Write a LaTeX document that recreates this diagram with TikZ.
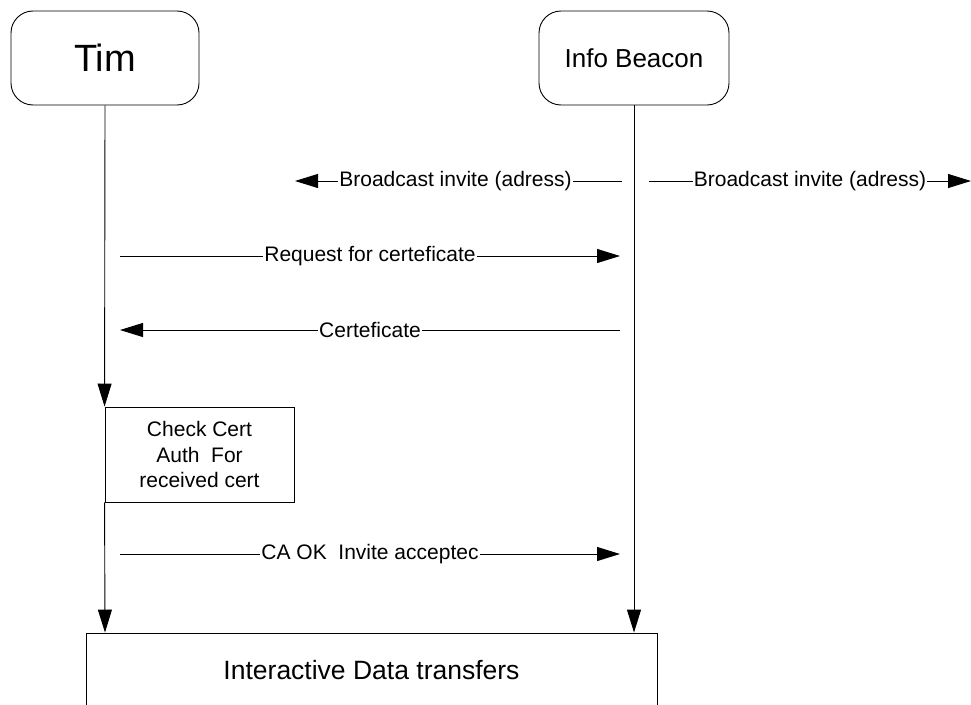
\documentclass[tikz,border=0pt]{standalone}
\usepackage{fontspec}
\setmainfont{Liberation Sans}
\usetikzlibrary{arrows.meta}
\begin{document}
\begin{tikzpicture}[x=1pt,y=-1pt, line width=0.9pt,
  actor/.style={draw, rounded corners=22pt, minimum width=188pt, minimum height=94pt, inner sep=0pt},
  plainbox/.style={draw, sharp corners, inner sep=0pt, align=center},
  msg/.style={-{Triangle[length=23pt,width=14pt]}},
  lbl/.style={fill=white, inner sep=1pt, font=\fontsize{21}{25}\selectfont}]
  \useasboundingbox (0,0) rectangle (971,704);
  \clip (0,0) rectangle (971,704);

  % participants
  \node[actor, font=\fontsize{38}{44}\selectfont] (tim) at (105,58) {Tim};
  \node[actor, minimum width=190pt, font=\fontsize{26}{30}\selectfont] (beacon) at (634,58) {Info Beacon};

  % local action and shared phase
  \node[plainbox, minimum width=189pt, minimum height=95pt,
        font=\fontsize{21}{25.5}\selectfont] (check) at (199.5,454.5)
        {Check Cert\\Auth\ \ For\\received cert};
  \node[plainbox, minimum width=571pt, minimum height=74pt,
        font=\fontsize{26.5}{30}\selectfont] (data) at (371.5,670)
        {Interactive Data transfers};

  % lifelines
  \draw[msg] (tim.south) -- (check.north west);
  \draw[msg] (check.south west) -- (tim.south |- data.north);
  \draw[msg] (beacon.south) -- (beacon.south |- data.north);

  % message end points
  \coordinate (bl1) at (622,181);
  \coordinate (bl2) at (295,181);
  \coordinate (br1) at (649,181);
  \coordinate (br2) at (971,181);
  \coordinate (rq1) at (120,256);
  \coordinate (rq2) at (620,256);
  \coordinate (ce1) at (620,330);
  \coordinate (ce2) at (120,330);
  \coordinate (ok1) at (120,554);
  \coordinate (ok2) at (620,554);

  % messages
  \draw[msg] (bl1) -- node[lbl, xshift=-3pt] {Broadcast invite (adress)} (bl2);
  \draw[msg] (br1) -- node[lbl] {Broadcast invite (adress)} (br2);
  \draw[msg] (rq1) -- node[lbl] {Request for certeficate} (rq2);
  \draw[msg] (ce1) -- node[lbl] {Certeficate} (ce2);
  \draw[msg] (ok1) -- node[lbl] {CA OK\ \ Invite acceptec} (ok2);
\end{tikzpicture}
\end{document}
